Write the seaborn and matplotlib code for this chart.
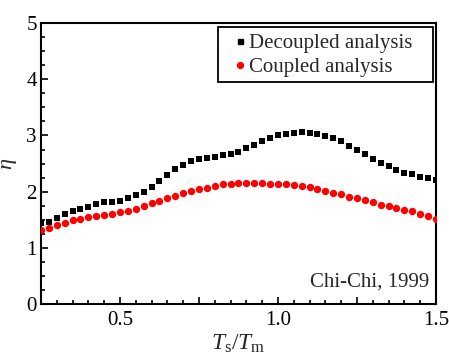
import numpy as np
import pandas as pd
import matplotlib
matplotlib.use("Agg")
import matplotlib.pyplot as plt
import seaborn as sns
from matplotlib.ticker import MultipleLocator, FixedLocator, FixedFormatter
from matplotlib.lines import Line2D
from matplotlib.patches import Rectangle

x_vals = [0.25, 0.275, 0.30, 0.325, 0.35, 0.375, 0.40, 0.425, 0.45, 0.475,
          0.50, 0.525, 0.55, 0.575, 0.60, 0.625, 0.65, 0.675, 0.70, 0.725,
          0.75, 0.775, 0.80, 0.825, 0.85, 0.875, 0.90, 0.925, 0.95, 0.975,
          1.00, 1.025, 1.05, 1.075, 1.10, 1.125, 1.15, 1.175, 1.20, 1.225,
          1.25, 1.275, 1.30, 1.325, 1.35, 1.375, 1.40, 1.425, 1.45, 1.475, 1.50]

decoupled = [1.45, 1.46, 1.54, 1.61, 1.66, 1.69, 1.73, 1.78, 1.81, 1.82,
             1.84, 1.88, 1.94, 2.00, 2.09, 2.19, 2.30, 2.40, 2.48, 2.54,
             2.58, 2.60, 2.62, 2.65, 2.67, 2.71, 2.77, 2.83, 2.90, 2.96,
             3.01, 3.03, 3.05, 3.06, 3.05, 3.03, 2.99, 2.95, 2.90, 2.82,
             2.75, 2.67, 2.58, 2.51, 2.45, 2.38, 2.34, 2.31, 2.27, 2.25, 2.20]

coupled = [1.32, 1.36, 1.40, 1.45, 1.49, 1.52, 1.55, 1.56, 1.58, 1.61,
           1.64, 1.66, 1.70, 1.74, 1.79, 1.84, 1.88, 1.93, 1.98, 2.01,
           2.04, 2.07, 2.10, 2.13, 2.14, 2.15, 2.16, 2.16, 2.15, 2.14,
           2.14, 2.13, 2.12, 2.10, 2.09, 2.05, 2.02, 1.98, 1.95, 1.91,
           1.88, 1.85, 1.81, 1.77, 1.75, 1.71, 1.67, 1.65, 1.61, 1.56, 1.52]

series_names = ["Decoupled analysis", "Coupled analysis"]
x_tick_labels = ["0.5", "1.0", "1.5"]
annotation = "Chi-Chi, 1999"

sns.set_style("ticks")
plt.rcParams['font.family'] = ['Liberation Serif', 'DejaVu Serif']
plt.rcParams['mathtext.fontset'] = 'custom'
plt.rcParams['mathtext.rm'] = 'Liberation Serif'
plt.rcParams['mathtext.it'] = 'Liberation Serif:italic'

df = pd.DataFrame({
    "x": x_vals * 2,
    "y": decoupled + coupled,
    "series": [series_names[0]] * len(x_vals) + [series_names[1]] * len(x_vals),
})

fig = plt.figure(figsize=(4.49, 3.56), dpi=100)
ax = fig.add_axes([0.0913, 0.146, 0.8797, 0.789])

colors = {series_names[0]: "black", series_names[1]: "#ff0000"}
markers = {series_names[0]: "s", series_names[1]: "o"}
sizes = {series_names[0]: 24, series_names[1]: 28}
for name in series_names:
    sub = df[df["series"] == name]
    sns.scatterplot(data=sub, x="x", y="y", ax=ax, color=colors[name],
                    marker=markers[name], s=sizes[name], linewidth=0,
                    clip_on=True, zorder=3)

ax.set_xlim(0.25, 1.5)
ax.set_ylim(0, 5)

ax.xaxis.set_major_locator(FixedLocator([0.5, 0.75, 1.0, 1.25, 1.5]))
ax.xaxis.set_major_formatter(FixedFormatter(["0.5", "", "1.0", "", "1.5"]))
ax.xaxis.set_minor_locator(MultipleLocator(0.05))
ax.yaxis.set_major_locator(MultipleLocator(1))
ax.yaxis.set_minor_locator(MultipleLocator(0.25))

ax.tick_params(which="both", direction="in", top=False, right=False,
               width=1.2, labelsize=15, colors="black")
ax.tick_params(which="major", length=5, pad=5)
ax.tick_params(which="minor", length=3)
ax.tick_params(axis="y", which="major", pad=3)
for s in ax.spines.values():
    s.set_linewidth(1.5)
    s.set_color("black")
    s.set_visible(True)

ax.set_xlabel(r"$T_\mathrm{s}/T_\mathrm{m}$", fontsize=17, labelpad=2)
ax.set_ylabel(r"$\eta$", fontsize=16, labelpad=5)

ax.text(0.982, 0.045, annotation, transform=ax.transAxes, ha="right",
        va="bottom", fontsize=15)

handles = [Line2D([], [], linestyle="none", marker=markers[n], color=colors[n],
                  markersize=3.6 if markers[n] == "s" else 4.2) for n in series_names]
leg = ax.legend(handles, series_names, loc="center", bbox_to_anchor=(0.716, 0.886),
                fontsize=15, frameon=False, handlelength=0.4,
                handletextpad=0.25, borderpad=0.0, labelspacing=0.2)
frame = Rectangle((0.447, 0.790), 0.545, 0.196, transform=ax.transAxes,
                  fill=False, edgecolor="black", linewidth=1.3, zorder=4)
ax.add_patch(frame)

fig.savefig("out.png", dpi=100)
